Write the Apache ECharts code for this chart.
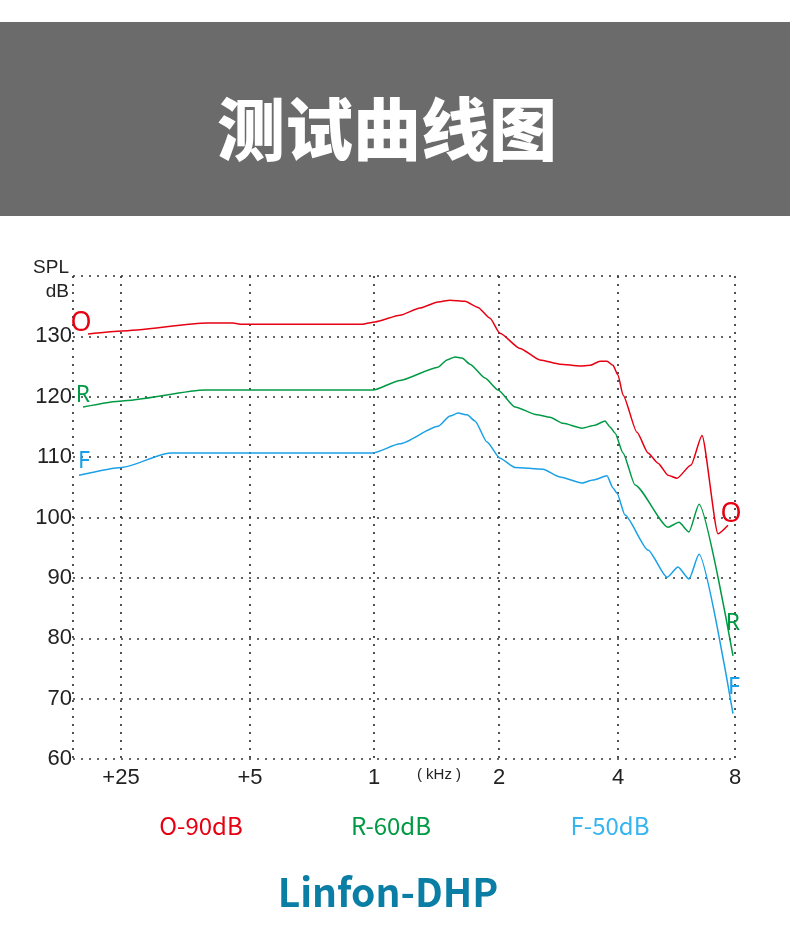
<!DOCTYPE html>
<html>
<head>
<meta charset="utf-8">
<title>测试曲线图</title>
<script src="https://cdn.jsdelivr.net/npm/echarts@6.0.0/dist/echarts.min.js"></script>
<style>
  html, body { margin: 0; padding: 0; background: #fff; }
  #chart { width: 790px; height: 934px; }
</style>
</head>
<body>
<div id="chart"></div>
<script>
// x positions along the frequency axis (plot units), tick labels
const tickPos = [48, 177, 301, 426, 545, 662];
const tickLabels = ['+25', '+5', '1', '2', '4', '8'];

// O - 90dB
const oFreq = [15, 49, 134, 160, 169, 289, 302, 327, 347, 365, 377, 392, 405, 417, 427, 447, 467, 487, 507, 517, 527, 534, 540, 545, 550, 564, 575, 585, 595, 604, 618, 629, 645, 655];
const oSpl  = [130.4, 130.9, 132.2, 132.2, 132.0, 132.0, 132.4, 133.5, 134.7, 135.7, 136.0, 135.8, 134.8, 133.0, 130.5, 128.0, 126.1, 125.4, 125.1, 125.2, 125.9, 125.9, 125.2, 123.6, 120.3, 114.1, 110.7, 109.0, 107.0, 106.5, 108.7, 113.6, 97.3, 98.7];

// R - 60dB
const rFreq = [10, 49, 132, 300, 327, 365, 374, 382, 389, 397, 412, 425, 442, 464, 477, 490, 509, 522, 532, 537, 542, 550, 562, 595, 606, 616, 626, 660];
const rSpl  = [118.3, 119.3, 121.1, 121.1, 122.7, 124.9, 126.1, 126.6, 126.4, 125.4, 123.1, 121.1, 118.3, 117.0, 116.6, 115.6, 114.8, 115.3, 116.0, 115.0, 114.0, 110.7, 105.4, 98.4, 99.2, 97.6, 102.2, 77.1];

// F - 50dB
const fFreq = [6, 49, 97, 300, 327, 365, 377, 385, 394, 402, 414, 427, 442, 470, 487, 509, 520, 534, 540, 544, 552, 575, 594, 605, 616, 626, 660];
const fSpl  = [107.0, 108.3, 110.7, 110.7, 112.2, 115.1, 116.8, 117.3, 117.0, 116.0, 112.5, 109.8, 108.3, 108.0, 106.7, 105.7, 106.2, 106.9, 104.9, 104.0, 100.4, 94.6, 90.1, 91.8, 89.8, 93.9, 67.5];

const colors = { O: '#e60012', R: '#009a44', F: '#1aa0e6' };

var myChart = echarts.init(document.getElementById('chart'), null, { renderer: 'canvas' });

// tag letters at both ends of each curve
function buildData(xs, ys, name, fontSize, startOffset, endOffset) {
  return xs.map(function (x, i) {
    let item = { value: [x, ys[i]] };
    if (i === 0 || i === xs.length - 1) {
      item.label = {
        show: true,
        formatter: name,
        position: 'inside',
        offset: i === 0 ? startOffset : endOffset,
        color: colors[name],
        fontSize: fontSize,
        fontFamily: 'Noto Sans'
      };
    }
    return item;
  });
}

function curve(name, xs, ys, fontSize, startOffset, endOffset) {
  return {
    name: name,
    type: 'line',
    data: buildData(xs, ys, name, fontSize, startOffset, endOffset),
    symbol: 'circle',
    symbolSize: 0.1,
    showSymbol: true,
    smooth: 0.2,
    smoothMonotone: 'x',
    lineStyle: { color: colors[name], width: 1.5 },
    itemStyle: { color: colors[name] },
    emphasis: { disabled: true },
    z: 3
  };
}

const dotted = { type: [2, 6], color: '#333', width: 1.7 };

myChart.setOption({
  animation: false,
  backgroundColor: '#fff',
  grid: {
    left: 73,
    right: 55,
    top: 276,
    bottom: 175,
    outerBoundsMode: 'none'
  },
  xAxis: {
    type: 'value',
    min: 0,
    max: 662,
    axisLine: { show: false },
    axisTick: { show: false, customValues: [0].concat(tickPos) },
    splitLine: { show: true, lineStyle: dotted },
    axisLabel: {
      customValues: tickPos,
      formatter: function (v) {
        let idx = tickPos.indexOf(v);
        return idx >= 0 ? tickLabels[idx] : '';
      },
      color: '#222',
      fontSize: 22,
      fontFamily: 'Liberation Sans',
      margin: 8
    }
  },
  yAxis: {
    type: 'value',
    min: 60,
    max: 140,
    interval: 10,
    axisLine: { show: false },
    axisTick: { show: false },
    splitLine: { show: true, lineStyle: dotted },
    axisLabel: {
      formatter: function (v) { return v === 140 ? '' : v; },
      color: '#222',
      fontSize: 22,
      fontFamily: 'Liberation Sans',
      margin: 1
    }
  },
  series: [
    curve('O', oFreq, oSpl, 27, [-7, -11], [3, -11]),
    curve('R', rFreq, rSpl, 23, [0, -12], [0, -32]),
    curve('F', fFreq, fSpl, 23, [5, -14], [1, -26])
  ],
  graphic: [
    {
      type: 'rect',
      shape: { x: 0, y: 22, width: 790, height: 194 },
      style: { fill: '#6b6b6b' },
      z: -1
    },
    {
      type: 'text',
      style: {
        x: 387, y: 129, text: '测试曲线图',
        align: 'center', verticalAlign: 'middle',
        fill: '#fff', fontSize: 68, fontWeight: 900,
        fontFamily: 'Noto Sans CJK SC'
      }
    },
    {
      type: 'text',
      style: {
        x: 69, y: 280, text: 'SPL\ndB',
        align: 'right', verticalAlign: 'middle', lineHeight: 24,
        fill: '#222', fontSize: 19, fontFamily: 'Liberation Sans'
      }
    },
    {
      type: 'text',
      style: {
        x: 439, y: 775, text: '( kHz )',
        align: 'center', verticalAlign: 'middle',
        fill: '#222', fontSize: 15, fontFamily: 'Liberation Sans'
      }
    },
    {
      type: 'text',
      style: {
        x: 201, y: 826, text: 'O-90dB', align: 'center', verticalAlign: 'middle',
        fill: colors.O, fontSize: 24, fontFamily: 'Noto Sans CJK SC'
      }
    },
    {
      type: 'text',
      style: {
        x: 391, y: 826, text: 'R-60dB', align: 'center', verticalAlign: 'middle',
        fill: colors.R, fontSize: 24, fontFamily: 'Noto Sans CJK SC'
      }
    },
    {
      type: 'text',
      style: {
        x: 610, y: 826, text: 'F-50dB', align: 'center', verticalAlign: 'middle',
        fill: '#38b4ef', fontSize: 24, fontFamily: 'Noto Sans CJK SC'
      }
    },
    {
      type: 'text',
      style: {
        x: 388, y: 892, text: 'Linfon-DHP', align: 'center', verticalAlign: 'middle',
        fill: '#0a7ea4', fontSize: 39, fontWeight: 'bold', fontFamily: 'Noto Sans CJK SC'
      }
    }
  ]
});
</script>
</body>
</html>
